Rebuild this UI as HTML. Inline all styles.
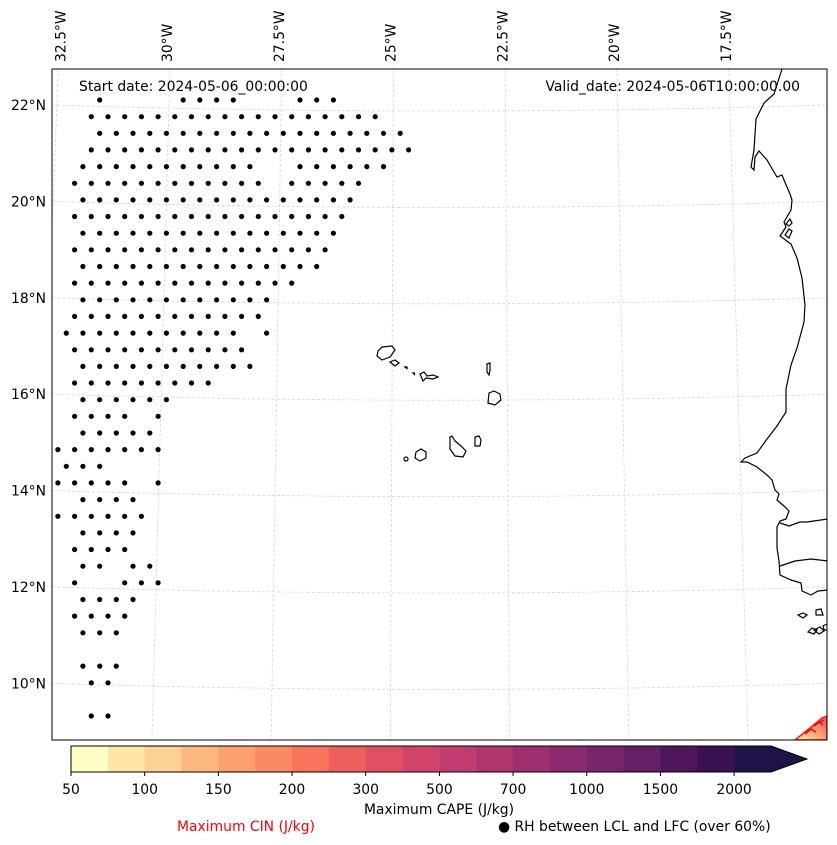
<!DOCTYPE html>
<html><head><meta charset="utf-8"><style>
html,body{margin:0;padding:0;background:#fff;}
svg{display:block;font-family:"DejaVu Sans","Liberation Sans",sans-serif;}
</style></head><body>
<svg id="chart" width="837" height="845" viewBox="0 0 837 845">
<defs><clipPath id="mapclip"><rect x="52" y="69" width="775" height="671"/></clipPath>
<linearGradient id="redg" x1="0" y1="1" x2="1" y2="0"><stop offset="0" stop-color="#fdf3b0"/><stop offset="0.5" stop-color="#fca270"/><stop offset="1" stop-color="#e34f62"/></linearGradient></defs>
<rect x="52" y="69" width="775" height="671" fill="#fff"/>
<g id="grid" clip-path="url(#mapclip)"></g>
<g id="dots" clip-path="url(#mapclip)"></g>
<g clip-path="url(#mapclip)" fill="none" stroke="#000" stroke-width="1.2">
<path d="M782,69 L774,94 L764,103 L756,119 L754,150 L751,167 L754,170 L755,157 L759,151 L767,160 L774,172 L777,177 L782,175 L784,180 L790,194 L792,200 L791,210 L787,217 L784,222 L786,227 L780,236 L791,244 L797,258 L802,278 L805,305 L804,322 L797,348 L791,365 L786,389 L786,412 L777,426 L767,439 L757,453 L745,458 L741,462 L747,462 L757,467 L767,475 L772,480 L775,490 L779,494 L777,500 L784,506 L789,511 L786,519 L780,521 L777,527 L777,548 L779,561 L780,575 L791,580 L801,583 L802,591 L811,595 L818,591 L828,590"/>
<path d="M780,523 L789,526 L800,522 L807,522 L828,519"/>
<path d="M780,566 L795,561 L811,559 L828,561"/>
<path d="M785,235 l4,-6 l3,2 l-3,7 z M786,224 l4,-5 l2,4 l-3,3 z"/>
<path d="M798,615 l5,-2 l4,2 l-4,3 z M816,610 l5,-1 l2,6 l-7,0 z M808,632 l4,-4 l5,2 l-3,4 z M814,630 l6,-3 l4,4 l-5,3 z M823,626 l4,-2 l1,6 l-4,0 z"/>
<path d="M378,351 L382,347 L392,346 L395,350 L390,357 L382,360 L377,356 Z"/>
<path d="M390,362 L395,360 L399,363 L395,366 Z"/>
<path d="M405,367 l2,0 l0,1.5 z M413,373 l1.5,0 l0,1.5 z"/>
<path d="M420,374 L424,372 L427,376 L433,375 L438,377 L433,379 L426,378 L423,381 Z"/>
<path d="M487,364 L490,363 L490,370 L489,375 L487,372 Z"/>
<path d="M489,393 L494,391 L500,394 L501,400 L495,405 L488,403 Z"/>
<path d="M475,437 L479,436 L481,440 L480,446 L475,446 Z"/>
<path d="M450,437 L452,436 L455,441 L461,446 L466,451 L463,457 L455,456 L450,449 Z"/>
<path d="M416,452 L421,449 L426,452 L426,458 L420,461 L415,458 Z"/>
<circle cx="406" cy="459" r="2"/>
</g>
<g clip-path="url(#mapclip)">
<path d="M795,740 L810,728 L822,718 L827,716 L827,740 Z" fill="url(#redg)" stroke="#ff1a1a" stroke-width="1.5"/>
<path d="M805,734 l6,-5 l5,3 M814,726 l5,-4 l4,3 M820,722 l4,-2" fill="none" stroke="#ff0000" stroke-width="1.5"/>
</g>
<rect x="52" y="69" width="775" height="671" fill="none" stroke="#000" stroke-width="1"/>
<text x="79" y="91" font-size="13.9">Start date: 2024-05-06_00:00:00</text>
<text x="800" y="91" font-size="13.9" text-anchor="end">Valid_date: 2024-05-06T10:00:00.00</text>
<g id="latlabels" font-size="13.9" text-anchor="end"></g>
<g id="lonlabels" font-size="13.9"></g>
<g id="cbar"></g>
<text x="439" y="814" font-size="13.9" text-anchor="middle">Maximum CAPE (J/kg)</text>
<text x="246" y="831" font-size="13.9" text-anchor="middle" fill="#ff0000">Maximum CIN (J/kg)</text>
<text x="498" y="831" font-size="13.9">● RH between LCL and LFC (over 60%)</text>
</svg>
<script>
const latValues = [22, 20, 18, 16, 14, 12, 10];
const latLabelsText = ["22°N","20°N","18°N","16°N","14°N","12°N","10°N"];
const lonValues = [32.5, 30, 27.5, 25, 22.5, 20, 17.5];
const lonLabelsText = ["32.5°W","30°W","27.5°W","25°W","22.5°W","20°W","17.5°W"];
const dotRows = [
 [5,15,17,19,21,29,31,33],
 [4,6,8,10,12,14,16,18,20,22,24,26,28,30,32,34,36,38],
 [5,7,9,11,13,15,17,19,21,23,25,27,29,31,33,35,37,39,41],
 [4,6,8,10,12,14,16,18,20,22,24,26,28,30,32,34,36,38,40,42],
 [3,5,7,9,11,13,15,17,19,21,23,29,31,33,35,37,39],
 [2,4,6,8,10,12,14,16,18,20,22,24,28,30,32,34,36],
 [3,5,7,9,11,13,15,17,19,21,23,25,27,29,31,33,35],
 [2,4,6,8,10,12,14,16,18,20,22,24,26,28,30,32,34],
 [3,5,7,9,11,13,15,17,19,21,23,25,27,29,31,33],
 [2,4,6,8,10,12,14,16,18,20,22,24,26,28,30,32],
 [3,5,7,9,11,13,15,17,19,21,23,25,27,29,31],
 [2,4,6,8,10,12,14,16,18,20,22,24,26,28],
 [3,5,7,9,11,13,15,17,19,21,23,25],
 [2,4,6,8,10,12,14,16,18,20,22,24],
 [1,3,5,7,9,11,13,15,17,19,21,25],
 [2,4,6,8,10,12,14,16,18,20,22],
 [3,5,7,9,11,13,15,17,19,21,23],
 [2,4,6,8,10,12,14,16,18],
 [3,5,7,9,11,13],
 [2,4,6,8,12],
 [3,5,7,9,11],
 [0,2,4,6,8,10,12],
 [1,3,5],
 [0,2,4,6,8,12],
 [3,5,7,9],
 [0,2,4,6,8,10],
 [3,5,7,9],
 [2,4,6,8],
 [3,5,9,11],
 [2,8,10,12],
 [3,5,7,9],
 [2,4,6,8],
 [3,5,7],
 [],
 [3,5,7],
 [4,6],
 [],
 [4,6]
];
const cbarLevels = ["50","75","100","125","150","175","200","250","300","400","500","600","700","850","1000","1250","1500","1750","2000"];
const cbarTickLabels = ["50","100","150","200","300","500","700","1000","1500","2000"];
const cbarColors = ["#fffec4","#fde6a8","#fdd194","#fdb87e","#fca16e","#fb8a62","#f8745c","#ef5e5e","#e34f62","#d3446a","#c23c6f","#b0356f","#9d2f6f","#8b2a6e","#79256b","#651f65","#4e165d","#3a1252","#201347"];

const NS="http://www.w3.org/2000/svg";
function mk(tag, attrs, parent){const e=document.createElementNS(NS,tag);for(const k in attrs)e.setAttribute(k,attrs[k]);parent.appendChild(e);return e;}
function latToY(lat){return 105 + (22-lat)*48.2;}
function lonToTopX(lon){return 170 + (30-lon)*44.7;}
function lonToX(lon, y){const t=lonToTopX(lon);const b=t+(t-440)*0.067;return t+(b-t)*(y-69)/671;}
function latCurveY(y0, x){const k=4.0e-5;return y0 + k*(388*388 - (x-440)*(x-440));}
function colToX(c){return 57.9 + 8.35*c;}
function rowToY(r){return 100 + 16.65*r;}

const grid=document.getElementById('grid');
latValues.forEach((lat,i)=>{
  const y0=latToY(lat);
  let d="";
  for(let x=52;x<=828;x+=8){d+=(x===52?"M":"L")+x+","+latCurveY(y0,x).toFixed(1)+" ";}
  const p=mk('path',{d:d,fill:'none',stroke:'#d6d6d6','stroke-width':'0.8','stroke-dasharray':'3,2'},grid);
  
  
  const t=mk('text',{x:46,y:(y0+5).toFixed(1)},document.getElementById('latlabels'));
  t.textContent=latLabelsText[i];
  
  
});
lonValues.forEach((lon,i)=>{
  const p=mk('line',{x1:lonToX(lon,69),y1:69,x2:lonToX(lon,740),y2:740,stroke:'#d6d6d6','stroke-width':'0.8','stroke-dasharray':'3,2'},grid);
  
  
  const x=lonToTopX(lon)+ (i===0?2:-3);
  const t=mk('text',{x:0,y:0,transform:'translate('+(x+5)+',62) rotate(-90)'},document.getElementById('lonlabels'));
  t.textContent=lonLabelsText[i];
  
  
});
const dots=document.getElementById('dots');
dotRows.forEach((row,r)=>{
  row.forEach(c=>{
    const e=mk('circle',{cx:colToX(c).toFixed(1),cy:rowToY(r).toFixed(1),r:2.6,fill:'#000'},dots);
    
    
  });
});
const cb=document.getElementById('cbar');
const cx0=71, cw=36.84, cy0=746, ch=26;
cbarColors.forEach((col,i)=>{
  const e=mk('rect',{x:(cx0+i*cw).toFixed(2),y:cy0,width:(cw+0.5).toFixed(2),height:ch,fill:col},cb);
  
  
});
const endX=cx0+cbarColors.length*cw;
const tri=mk('polygon',{points:endX+','+cy0+' '+(endX+36)+','+(cy0+ch/2)+' '+endX+','+(cy0+ch),fill:cbarColors[cbarColors.length-1]},cb);


mk('polygon',{points:cx0+','+cy0+' '+endX+','+cy0+' '+(endX+36)+','+(cy0+ch/2)+' '+endX+','+(cy0+ch)+' '+cx0+','+(cy0+ch),fill:'none',stroke:'#000','stroke-width':'1'},cb);
cbarTickLabels.forEach(lbl=>{
  const i=cbarLevels.indexOf(lbl);
  const x=cx0+i*cw;
  mk('line',{x1:x,y1:cy0+ch,x2:x,y2:cy0+ch+4,stroke:'#000','stroke-width':'1'},cb);
  const t=mk('text',{x:x.toFixed(1),y:794,'font-size':'13.9','text-anchor':'middle'},cb);
  t.textContent=lbl;
  
  
});
</script>
</body></html>
